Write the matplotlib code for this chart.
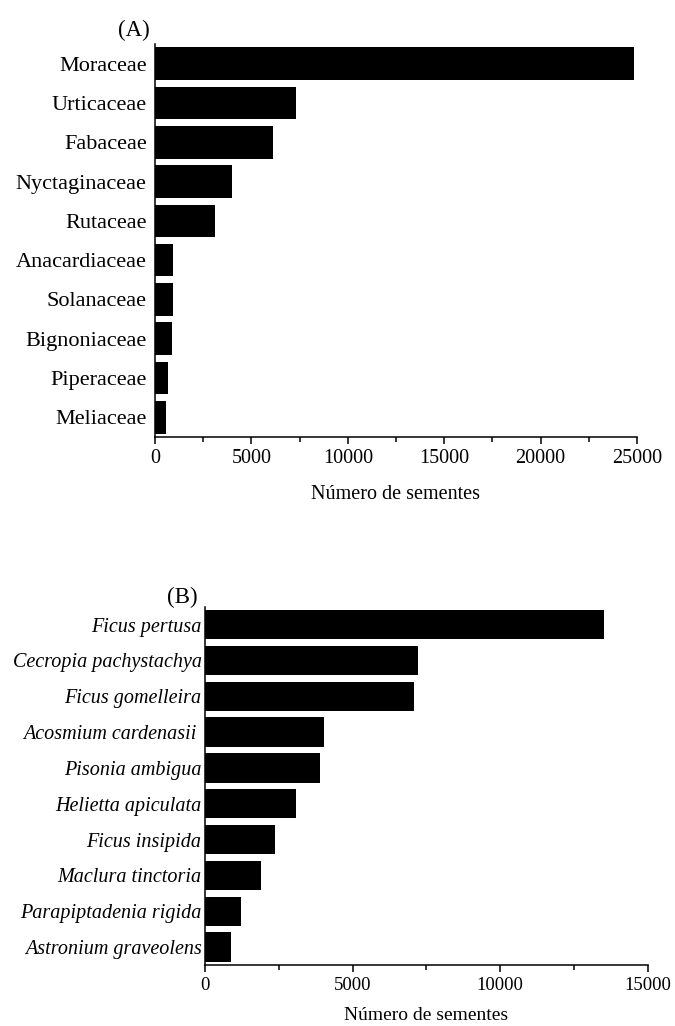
import matplotlib.pyplot as plt
from matplotlib.ticker import MultipleLocator

plt.rcParams['font.family'] = ['Liberation Serif', 'DejaVu Serif']

familias = ['Moraceae', 'Urticaceae', 'Fabaceae', 'Nyctaginaceae', 'Rutaceae',
            'Anacardiaceae', 'Solanaceae', 'Bignoniaceae', 'Piperaceae', 'Meliaceae']
sementes_fam = [24850, 7290, 6130, 4000, 3130, 960, 940, 900, 650, 580]

especies = ['Ficus pertusa', 'Cecropia pachystachya', 'Ficus gomelleira',
            'Acosmium cardenasii ', 'Pisonia ambigua', 'Helietta apiculata',
            'Ficus insipida', 'Maclura tinctoria', 'Parapiptadenia rigida',
            'Astronium graveolens']
sementes_esp = [13520, 7200, 7070, 4030, 3910, 3070, 2370, 1910, 1210, 880]

fig = plt.figure(figsize=(6.75, 10.26), dpi=100)

# painel A
ax1 = fig.add_axes([0.2296, 0.5741, 0.7141, 0.3830])
ax1.barh(range(len(familias)), sementes_fam, height=0.83, color='black')
ax1.set_yticks(range(len(familias)))
ax1.set_yticklabels(familias, fontsize=16)
ax1.set_ylim(9.5, -0.5)
ax1.set_xlim(0, 25000)
ax1.set_xticks([0, 5000, 10000, 15000, 20000, 25000])
ax1.xaxis.set_minor_locator(MultipleLocator(2500))
ax1.tick_params(axis='x', labelsize=14.5, length=5, width=1.1, pad=4)
ax1.tick_params(axis='x', which='minor', length=3.5, width=1.1)
ax1.tick_params(axis='y', length=0, pad=6)
ax1.set_xlabel('Número de sementes', fontsize=14.5, labelpad=12)
ax1.spines['top'].set_visible(False)
ax1.spines['right'].set_visible(False)
ax1.spines['left'].set_linewidth(1.1)
ax1.spines['bottom'].set_linewidth(1.1)
fig.text(134 / 675, 1 - 30 / 1026, '(A)', fontsize=16.5, ha='center', va='center')

# painel B
ax2 = fig.add_axes([0.3037, 0.0595, 0.6563, 0.3492])
ax2.barh(range(len(especies)), sementes_esp, height=0.82, color='black')
ax2.set_yticks(range(len(especies)))
ax2.set_yticklabels(especies, fontsize=14.5, style='italic')
ax2.set_ylim(9.5, -0.5)
ax2.set_xlim(0, 15000)
ax2.set_xticks([0, 5000, 10000, 15000])
ax2.xaxis.set_minor_locator(MultipleLocator(2500))
ax2.tick_params(axis='x', labelsize=13.5, length=5, width=1.1, pad=4)
ax2.tick_params(axis='x', which='minor', length=3.5, width=1.1)
ax2.tick_params(axis='y', length=0, pad=2.5)
ax2.set_xlabel('Número de sementes', fontsize=14, labelpad=9)
ax2.spines['top'].set_visible(False)
ax2.spines['right'].set_visible(False)
ax2.spines['left'].set_linewidth(1.1)
ax2.spines['bottom'].set_linewidth(1.1)
fig.text(182 / 675, 1 - 597 / 1026, '(B)', fontsize=16.5, ha='center', va='center')

fig.savefig('out.png', dpi=100)
